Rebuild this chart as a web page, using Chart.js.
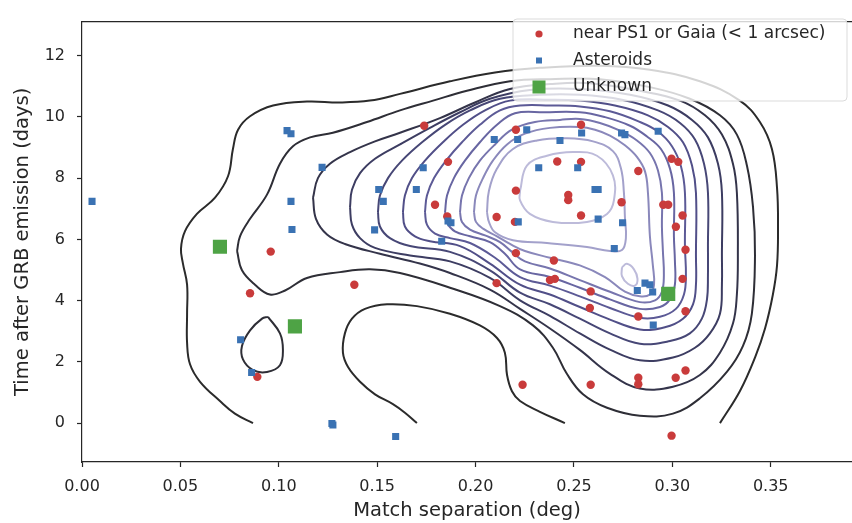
<!DOCTYPE html>
<html>
<head>
<meta charset="utf-8">
<script src="https://cdn.jsdelivr.net/npm/chart.js@4.4.1/dist/chart.umd.min.js"></script>
<style>
  html, body { margin: 0; padding: 0; background: #fff; overflow: hidden; }
  #wrap { position: relative; width: 852px; height: 523px; }
</style>
</head>
<body>
<div id="wrap"><canvas id="kdeChart"></canvas></div>
<script>
// tick values
const xTicks = [0, 0.05, 0.10, 0.15, 0.20, 0.25, 0.30, 0.35];
const yTicks = [0, 2, 4, 6, 8, 10, 12];

// scatter series (match separation in deg, days after GRB)
const nearX = [0.0959, 0.0854, 0.0891, 0.1384, 0.2239, 0.2205, 0.2398, 0.2107, 0.2403, 0.2378,
  0.1739, 0.1860, 0.2205, 0.2205, 0.1794, 0.1856, 0.2107, 0.2200, 0.2415, 0.2536,
  0.2536, 0.2827, 0.2996, 0.3030, 0.2471, 0.2471, 0.2742, 0.2954, 0.2979, 0.2536,
  0.3052, 0.3018, 0.3067, 0.2585, 0.2581, 0.2827, 0.3052, 0.3067, 0.2585, 0.2827,
  0.2827, 0.3017, 0.3067, 0.2996];
const nearY = [5.60, 4.24, 1.51, 4.52, 1.25, 5.55, 5.31, 4.57, 4.71, 4.67,
  9.71, 8.53, 9.58, 7.59, 7.13, 6.75, 6.73, 6.57, 8.54, 9.74,
  8.53, 8.23, 8.63, 8.53, 7.45, 7.28, 7.21, 7.13, 7.13, 6.78,
  6.78, 6.41, 5.66, 4.30, 3.76, 3.48, 4.71, 3.65, 1.25, 1.48,
  1.27, 1.48, 1.72, -0.41];

const asteroidX = [0.0051, 0.1042, 0.1062, 0.1220, 0.1062, 0.1067, 0.0806, 0.0862, 0.1270, 0.1275,
  0.1594, 0.2260, 0.2095, 0.2214, 0.1734, 0.2321, 0.1508, 0.1699, 0.1531, 0.1875,
  0.1860, 0.2217, 0.1487, 0.1828, 0.2429, 0.2539, 0.2742, 0.2759, 0.2928, 0.2519,
  0.2607, 0.2623, 0.2623, 0.2747, 0.2705, 0.2822, 0.2861, 0.2900, 0.2886, 0.2903];
const asteroidY = [7.24, 9.55, 9.45, 8.35, 7.24, 6.32, 2.72, 1.65, -0.01, -0.06,
  -0.44, 9.58, 9.26, 9.26, 8.34, 8.34, 7.63, 7.63, 7.24, 6.54,
  6.60, 6.57, 6.31, 5.94, 9.23, 9.47, 9.47, 9.42, 9.53, 8.34,
  7.63, 7.63, 6.66, 6.54, 5.70, 4.33, 4.57, 4.28, 4.52, 3.20];

const unknownX = [0.0701, 0.1082, 0.2979];
const unknownY = [5.76, 3.16, 4.22];

// density contour paths, [x, y] pairs, outermost level first
const lvl1Outer = [[0.0869,0],[0.0777,0.31],[0.0701,0.72],[0.0600,1.35],[0.0549,1.92],[0.0534,2.62],[0.0534,3.57],[0.0534,4.52],[0.0513,5.21],[0.0503,5.69],[0.0523,6.26],[0.0584,6.83],[0.0676,7.36],[0.0742,8.06],[0.0767,8.95],[0.0793,9.58],[0.0854,10.02],[0.0971,10.37],[0.1143,10.50],[0.1311,10.47],[0.1463,10.53],[0.1616,10.75],[0.1870,11.16],[0.2099,11.45],[0.2327,11.60],[0.2632,11.67],[0.2886,11.54],[0.3140,11.16],[0.3343,10.53],[0.3445,9.83],[0.3506,8.95],[0.3532,7.68],[0.3537,6.32],[0.3532,5.15],[0.3511,4.20],[0.3471,3.09],[0.3420,2.14],[0.3343,1.04],[0.3242,0]];
const lvl1Valley = [[0.1702,0],[0.1641,0.34],[0.1580,0.62],[0.1489,0.94],[0.1413,1.35],[0.1352,1.83],[0.1326,2.30],[0.1336,2.93],[0.1372,3.41],[0.1438,3.73],[0.1550,3.88],[0.1702,3.82],[0.1870,3.57],[0.2022,3.19],[0.2109,2.78],[0.2149,2.30],[0.2160,1.57],[0.2185,1.04],[0.2226,0.72],[0.2327,0.37],[0.2454,0]];
const lvl2 = [[0.0788,5.62],[0.0813,4.99],[0.0879,4.52],[0.0955,4.20],[0.1032,4.33],[0.1143,4.74],[0.1311,4.93],[0.1463,5.02],[0.1616,4.90],[0.1870,4.42],[0.2124,3.82],[0.2292,3.19],[0.2393,2.46],[0.2464,1.61],[0.2546,0.94],[0.2668,0.50],[0.2835,0.24],[0.3003,0.31],[0.3140,0.81],[0.3277,1.67],[0.3359,2.52],[0.3404,3.57],[0.3420,5.47],[0.3410,7.05],[0.3379,8.41],[0.3328,9.42],[0.3242,10.05],[0.3089,10.59],[0.2886,10.97],[0.2632,11.23],[0.2378,11.23],[0.2175,11.16],[0.1956,10.85],[0.1784,10.53],[0.1616,10.21],[0.1448,9.83],[0.1275,9.48],[0.1159,9.33],[0.1072,9.04],[0.1006,8.47],[0.0940,7.46],[0.0854,6.67],[0.0803,6.10],[0.0788,5.62]];
const lvl2Island = [[0.0945,3.47],[0.1006,2.93],[0.1021,2.40],[0.1006,1.89],[0.0940,1.67],[0.0869,1.73],[0.0818,2.08],[0.0813,2.52],[0.0854,3.03],[0.0915,3.41],[0.0945,3.47]];
const lvl3 = [[0.1174,7.36],[0.1189,6.67],[0.1245,6.16],[0.1336,5.85],[0.1514,5.53],[0.1717,5.21],[0.1870,4.90],[0.2073,4.36],[0.2226,3.73],[0.2378,3.09],[0.2530,2.39],[0.2683,1.61],[0.2835,1.13],[0.3003,1.19],[0.3140,1.57],[0.3242,2.30],[0.3308,3.25],[0.3328,4.20],[0.3333,5.47],[0.3328,7.52],[0.3308,8.47],[0.3252,9.42],[0.3166,10.05],[0.3039,10.53],[0.2835,10.85],[0.2581,11.10],[0.2378,11.07],[0.2175,10.91],[0.1997,10.47],[0.1819,9.96],[0.1616,9.48],[0.1489,9.20],[0.1362,8.85],[0.1260,8.47],[0.1199,8.00],[0.1174,7.36]];
const lvl4 = [[0.1362,7.05],[0.1372,6.48],[0.1413,6.04],[0.1489,5.72],[0.1667,5.47],[0.1870,5.28],[0.2073,4.74],[0.2226,4.01],[0.2378,3.50],[0.2530,2.93],[0.2683,2.40],[0.2835,2.05],[0.3003,2.14],[0.3115,2.46],[0.3191,2.93],[0.3242,3.57],[0.3252,4.52],[0.3252,5.47],[0.3252,7.52],[0.3232,8.47],[0.3181,9.33],[0.3100,9.90],[0.2978,10.37],[0.2785,10.72],[0.2530,10.91],[0.2276,10.88],[0.2073,10.59],[0.1921,10.15],[0.1768,9.64],[0.1616,9.10],[0.1489,8.63],[0.1413,8.16],[0.1372,7.62],[0.1362,7.05]];
const lvl5 = [[0.1504,6.89],[0.1514,6.42],[0.1565,6.04],[0.1667,5.78],[0.1870,5.59],[0.2073,4.99],[0.2226,4.26],[0.2378,3.88],[0.2530,3.41],[0.2683,2.93],[0.2835,2.59],[0.2988,2.68],[0.3089,2.93],[0.3150,3.41],[0.3176,4.04],[0.3181,4.83],[0.3181,5.78],[0.3181,7.52],[0.3161,8.47],[0.3115,9.26],[0.3039,9.80],[0.2927,10.21],[0.2744,10.56],[0.2530,10.72],[0.2327,10.72],[0.2124,10.59],[0.1972,10.21],[0.1845,9.74],[0.1728,9.17],[0.1626,8.57],[0.1555,8.00],[0.1514,7.43],[0.1504,6.89]];
const lvl6 = [[0.1631,6.89],[0.1641,6.42],[0.1692,6.10],[0.1768,5.94],[0.1921,5.78],[0.2073,5.21],[0.2226,4.52],[0.2378,4.20],[0.2530,3.79],[0.2683,3.38],[0.2835,3.06],[0.2962,3.13],[0.3054,3.41],[0.3105,3.88],[0.3120,4.52],[0.3120,5.47],[0.3120,7.52],[0.3100,8.41],[0.3054,9.17],[0.2978,9.67],[0.2876,10.05],[0.2708,10.37],[0.2530,10.53],[0.2378,10.56],[0.2175,10.53],[0.2048,10.21],[0.1936,9.74],[0.1834,9.17],[0.1743,8.57],[0.1677,8.00],[0.1641,7.43],[0.1631,6.89]];
const lvl7 = [[0.1743,6.89],[0.1753,6.48],[0.1794,6.19],[0.1870,6.04],[0.1972,5.88],[0.2099,5.40],[0.2226,4.77],[0.2378,4.49],[0.2530,4.14],[0.2683,3.76],[0.2835,3.44],[0.2937,3.47],[0.3018,3.73],[0.3059,4.20],[0.3069,4.83],[0.3064,5.78],[0.3064,7.52],[0.3044,8.38],[0.2998,9.04],[0.2927,9.52],[0.2825,9.86],[0.2683,10.18],[0.2530,10.34],[0.2378,10.37],[0.2226,10.37],[0.2124,10.21],[0.2022,9.74],[0.1931,9.17],[0.1850,8.57],[0.1789,8.00],[0.1753,7.43],[0.1743,6.89]];
const lvl8 = [[0.1845,6.89],[0.1855,6.54],[0.1895,6.26],[0.1972,6.10],[0.2073,5.91],[0.2149,5.53],[0.2226,5.02],[0.2378,4.77],[0.2530,4.42],[0.2683,4.04],[0.2835,3.73],[0.2937,3.79],[0.2988,4.04],[0.3013,4.52],[0.3013,5.31],[0.3008,6.10],[0.3008,7.52],[0.2988,8.31],[0.2942,8.95],[0.2871,9.36],[0.2785,9.71],[0.2658,9.99],[0.2530,10.15],[0.2353,10.15],[0.2200,10.12],[0.2109,9.74],[0.2022,9.17],[0.1946,8.57],[0.1890,8.00],[0.1855,7.43],[0.1845,6.89]];
const lvl9 = [[0.1921,6.89],[0.1931,6.57],[0.1972,6.32],[0.2048,6.13],[0.2124,5.91],[0.2185,5.59],[0.2251,5.28],[0.2378,5.05],[0.2530,4.67],[0.2683,4.29],[0.2835,3.95],[0.2912,4.01],[0.2947,4.29],[0.2957,4.83],[0.2952,5.62],[0.2947,6.42],[0.2947,7.52],[0.2927,8.25],[0.2886,8.82],[0.2820,9.23],[0.2734,9.55],[0.2632,9.80],[0.2530,9.93],[0.2429,9.90],[0.2302,9.83],[0.2185,9.58],[0.2099,9.10],[0.2022,8.57],[0.1966,8.00],[0.1931,7.43],[0.1921,6.89]];
const lvl10 = [[0.1992,6.89],[0.2002,6.57],[0.2038,6.35],[0.2109,6.10],[0.2175,5.85],[0.2251,5.62],[0.2378,5.40],[0.2530,5.15],[0.2658,4.77],[0.2759,4.29],[0.2835,4.14],[0.2886,4.20],[0.2907,4.52],[0.2901,5.15],[0.2886,6.10],[0.2876,7.52],[0.2861,8.22],[0.2820,8.69],[0.2759,9.07],[0.2683,9.39],[0.2607,9.58],[0.2530,9.67],[0.2378,9.64],[0.2251,9.45],[0.2160,9.10],[0.2088,8.57],[0.2038,8.00],[0.2002,7.43],[0.1992,6.89]];
const lvl11 = [[0.2058,6.89],[0.2068,6.57],[0.2099,6.23],[0.2190,5.97],[0.2363,5.88],[0.2566,5.75],[0.2683,5.62],[0.2744,5.65],[0.2764,6.04],[0.2759,6.73],[0.2754,7.52],[0.2739,8.31],[0.2698,8.88],[0.2597,9.20],[0.2464,9.30],[0.2312,9.23],[0.2190,8.95],[0.2109,8.31],[0.2068,7.59],[0.2058,6.89]];
const lvl12 = [[0.2226,7.59],[0.2261,8.41],[0.2363,8.73],[0.2495,8.85],[0.2617,8.73],[0.2698,8.09],[0.2703,7.27],[0.2668,6.83],[0.2566,6.57],[0.2393,6.57],[0.2276,6.83],[0.2226,7.27],[0.2226,7.59]];
const lvl12Island = [[0.2744,5.09],[0.2769,5.20],[0.2805,5.02],[0.2823,4.71],[0.2810,4.49],[0.2774,4.55],[0.2744,4.80],[0.2744,5.09]];

// level colours, dark outside to pale lavender inside
const levelColors = ['#2b2b2b', '#2e2e36', '#34344a', '#3d3d62', '#474776', '#514f88', '#5c5a96',
  '#6866a2', '#7775ae', '#8a88bb', '#a3a1cb', '#bdbbda'];

const contourPaths = [
  [lvl1Outer, 0], [lvl1Valley, 0], [lvl2, 1], [lvl2Island, 1], [lvl3, 2], [lvl4, 3], [lvl5, 4],
  [lvl6, 5], [lvl7, 6], [lvl8, 7], [lvl9, 8], [lvl10, 9], [lvl11, 10], [lvl12, 11], [lvl12Island, 11]
];

const legendLabels = ['near PS1 or Gaia (< 1 arcsec)', 'Asteroids', 'Unknown'];
const RED = '#c93b3b', BLUE = '#3a72b3', GREEN = '#4ea345';

const toPoints = (xs, ys) => xs.map((x, i) => ({ x: x, y: ys[i] }));

const datasets = [
  { label: legendLabels[2], data: toPoints(unknownX, unknownY), backgroundColor: GREEN,
    pointStyle: 'rect', pointRadius: 10, borderWidth: 0, order: 0 },
  { label: legendLabels[1], data: toPoints(asteroidX, asteroidY), backgroundColor: BLUE,
    pointStyle: 'rect', pointRadius: 5, borderWidth: 0, order: 1 },
  { label: legendLabels[0], data: toPoints(nearX, nearY), backgroundColor: RED,
    pointStyle: 'circle', pointRadius: 4.2, borderWidth: 0, order: 2 }
];

contourPaths.forEach(([pts, lvl]) => {
  datasets.push({
    label: 'contour',
    data: pts.map(p => ({ x: p[0], y: p[1] })),
    showLine: true,
    borderColor: levelColors[lvl],
    borderWidth: 2,
    pointRadius: 0,
    pointHoverRadius: 0,
    tension: 0.4,
    fill: false,
    order: 5
  });
});

// top spine and the framed legend, drawn the way the original figure has them
const framePlugin = {
  id: 'frameAndLegend',
  afterDraw(chart) {
    const { ctx, chartArea } = chart;
    ctx.save();
    ctx.strokeStyle = '#262626';
    ctx.lineWidth = 1.2;
    ctx.beginPath();
    ctx.moveTo(chartArea.left, chartArea.top);
    ctx.lineTo(chartArea.right, chartArea.top);
    ctx.stroke();

    // legend box
    const bx = 513, by = 19, bw = 334, bh = 82, r = 4;
    ctx.beginPath();
    ctx.moveTo(bx + r, by);
    ctx.arcTo(bx + bw, by, bx + bw, by + bh, r);
    ctx.arcTo(bx + bw, by + bh, bx, by + bh, r);
    ctx.arcTo(bx, by + bh, bx, by, r);
    ctx.arcTo(bx, by, bx + bw, by, r);
    ctx.closePath();
    ctx.fillStyle = 'rgba(255,255,255,0.8)';
    ctx.fill();
    ctx.strokeStyle = 'rgba(210,210,210,0.8)';
    ctx.lineWidth = 1;
    ctx.stroke();

    const markers = [
      { color: RED, shape: 'circle', size: 3.6 },
      { color: BLUE, shape: 'rect', size: 3 },
      { color: GREEN, shape: 'rect', size: 6.5 }
    ];
    ctx.font = '17px "DejaVu Sans"';
    ctx.textBaseline = 'middle';
    legendLabels.forEach((lab, i) => {
      const y = 34 + i * 26.5;
      const m = markers[i];
      ctx.fillStyle = m.color;
      if (m.shape === 'circle') {
        ctx.beginPath();
        ctx.arc(539, y, m.size, 0, Math.PI * 2);
        ctx.fill();
      } else {
        ctx.fillRect(539 - m.size, y - m.size, m.size * 2, m.size * 2);
      }
      ctx.fillStyle = '#262626';
      ctx.fillText(lab, 573, y);
    });
    ctx.restore();
  }
};

Chart.defaults.font.family = '"DejaVu Sans", sans-serif';

new Chart(document.getElementById('kdeChart'), {
  type: 'scatter',
  data: { datasets: datasets },
  options: {
    responsive: true,
    maintainAspectRatio: false,
    animation: false,
    layout: { autoPadding: false, padding: { top: 8, right: 0, bottom: 0, left: 0 } },
    plugins: {
      legend: { display: false },
      tooltip: { enabled: false }
    },
    scales: {
      x: {
        type: 'linear',
        min: 0,
        max: 0.3913,
        afterBuildTicks: s => { s.ticks = xTicks.map(v => ({ value: v })); },
        afterFit: s => { s.height = 61; },
        ticks: {
          callback: v => Number(v).toFixed(2),
          font: { size: 16 },
          color: '#262626',
          padding: 10,
          maxRotation: 0
        },
        grid: { display: true, drawOnChartArea: false, drawTicks: true, tickLength: 5, tickWidth: 1.2, tickColor: '#262626' },
        border: { display: true, color: '#262626', width: 1.2 },
        title: { display: true, text: 'Match separation (deg)', font: { size: 19.5 }, color: '#262626', padding: { top: 0, bottom: 0 } }
      },
      y: {
        type: 'linear',
        min: -1.27,
        max: 13.11,
        afterBuildTicks: s => { s.ticks = yTicks.map(v => ({ value: v })); },
        afterFit: s => { s.width = 82; },
        ticks: { font: { size: 16 }, color: '#262626', padding: 12 },
        grid: { display: true, drawOnChartArea: false, drawTicks: true, tickLength: 5, tickWidth: 1.2, tickColor: '#262626' },
        border: { display: true, color: '#262626', width: 1.2 },
        title: { display: true, text: 'Time after GRB emission (days)', font: { size: 19.5 }, color: '#262626', padding: { top: 11, bottom: 0 } }
      }
    }
  },
  plugins: [framePlugin]
});
</script>
</body>
</html>
